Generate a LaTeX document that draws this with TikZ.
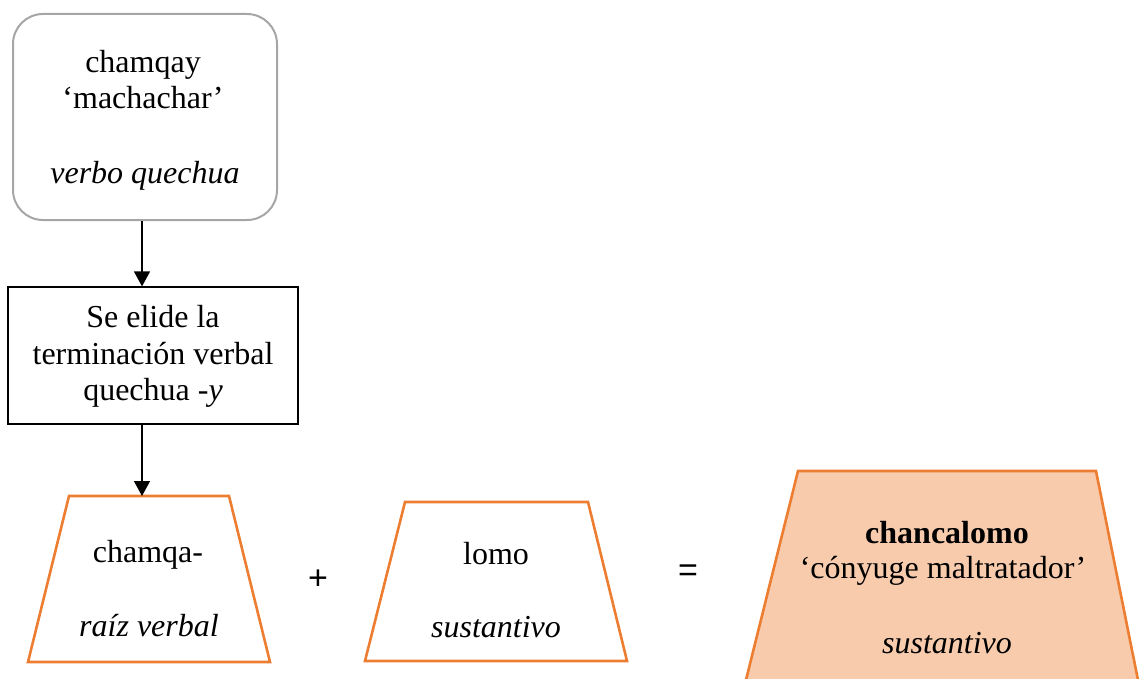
\documentclass[tikz,border=0pt]{standalone}
\usepackage{fontspec}
\setmainfont{Liberation Serif}
\newfontfamily\opfont{Liberation Sans}
\usetikzlibrary{arrows.meta}
\definecolor{boxgray}{HTML}{A6A6A6}
\definecolor{accent}{HTML}{ED7D31}
\definecolor{accentfill}{HTML}{F8CBAD}
\tikzset{
  txt/.style={anchor=base, inner sep=0pt, font=\fontsize{32}{37}\selectfont},
  opsign/.style={inner sep=0pt, font=\opfont\fontsize{34}{40}\selectfont},
  wordbox/.style={draw=boxgray, line width=2pt, rounded corners=30pt,
    minimum width=264pt, minimum height=206pt, inner sep=0pt},
  rulebox/.style={draw=black, line width=1.2pt,
    minimum width=290pt, minimum height=137pt, inner sep=0pt},
  trap/.style={draw=accent, line width=2.6pt, line join=miter},
  flow/.style={line width=1.3pt, -{Triangle[length=15pt,width=16pt]}}
}
\begin{document}
\begin{tikzpicture}[x=1pt, y=-1pt]
\useasboundingbox (0,0) rectangle (1140,679);

% Quechua verb
\node[wordbox] (verb) at (145,117) {};
\node[txt] (verbA) at (143,73) {chamqay};
\node[txt] (verbB) at (143,109) {‘machachar’};
\node[txt] (verbC) at (145,184) {\itshape verbo quechua};

% elision step
\node[rulebox] (elide) at (153,355.5) {};
\node[txt] (elA) at (153,327) {Se elide la};
\node[txt] (elB) at (153,364) {terminación verbal};
\node[txt] (elC) at (153,400) {quechua -\textit{y}};

% verbal root
\draw[trap] (69,496) -- (229,496) -- (270,662) -- (28,662) -- cycle;
\coordinate (rootTop) at (142,496);
\node[txt] (rootA) at (148,562) {chamqa-};
\node[txt] (rootB) at (149,636) {\itshape raíz verbal};

% noun
\draw[trap] (405,502) -- (588,502) -- (627,661) -- (365,661) -- cycle;
\node[txt] (nounA) at (496,564) {lomo};
\node[txt] (nounB) at (496,637) {\itshape sustantivo};

% resulting compound
\begin{scope}
  \clip (0,0) rectangle (1140,679);
  \draw[trap, fill=accentfill] (798,471) -- (1096,471) -- (1142,700) -- (741,700) -- cycle;
\end{scope}
\node[txt] (resA) at (947,543) {\bfseries chancalomo};
\node[txt] (resB) at (943,578) {‘cónyuge maltratador’};
\node[txt] (resC) at (947,653) {\itshape sustantivo};

% operators
\node[opsign] (plus) at (318,580) {+};
\node[opsign] (eq) at (688,573) {=};

% arrows
\coordinate (axis) at (142,0);
\draw[flow] (verb.south -| axis) -- (elide.north -| axis);
\draw[flow] (elide.south -| axis) -- (rootTop);
\end{tikzpicture}
\end{document}
